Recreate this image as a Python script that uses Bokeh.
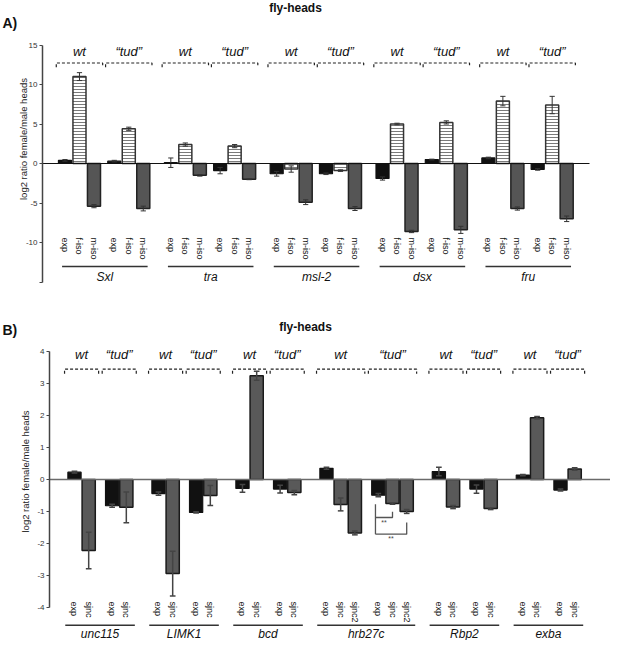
import math
from bokeh.plotting import figure
from bokeh.models import Range1d, FixedTicker
from bokeh.layouts import column
from bokeh.embed import file_html
from bokeh.resources import INLINE
from bokeh.core.properties import value

FONT = "Liberation Sans"
TUD = "\u201ctud\u201d"
conditions = ["wt", TUD]
title_text = "fly-heads"
ylabel_text = "log2 ratio female/male heads"

# ---------------- Panel A data ----------------
genes_a = ["Sxl", "tra", "msl-2", "dsx", "fru"]
iso_a = ["exp", "f-iso", "m-iso"]
a_wt_exp = [0.4, 0.1, -1.3, -1.9, 0.7]
a_wt_fiso = [11.0, 2.4, -0.7, 5.0, 7.9]
a_wt_miso = [-5.4, -1.5, -4.9, -8.6, -5.7]
a_tud_exp = [0.3, -0.9, -1.3, 0.5, -0.75]
a_tud_fiso = [4.4, 2.2, -0.9, 5.2, 7.4]
a_tud_miso = [-5.7, -2.0, -5.7, -8.4, -7.0]
a_wt_exp_err = [0.1, 0.6, 0.3, 0.2, 0.1]
a_wt_fiso_err = [0.5, 0.2, 0.4, 0.1, 0.6]
a_wt_miso_err = [0.2, 0.1, 0.3, 0.15, 0.2]
a_tud_exp_err = [0.1, 0.4, 0.1, 0.05, 0.1]
a_tud_fiso_err = [0.2, 0.2, 0.1, 0.2, 1.1]
a_tud_miso_err = [0.3, 0.05, 0.25, 0.45, 0.35]
a_ticks = [-15, -10, -5, 0, 5, 10, 15]

# ---------------- Panel B data ----------------
genes_b = ["unc115", "LIMK1", "bcd", "hrb27c", "Rbp2", "exba"]
iso_b = [["exp", "sjnc"], ["exp", "sjnc"], ["exp", "sjnc"],
         ["exp", "sjnc", "sjnc2"], ["exp", "sjnc"], ["exp", "sjnc"]]
b_wt_vals = [[0.23, -2.22], [-0.44, -2.94], [-0.28, 3.24],
             [0.35, -0.78, -1.67], [0.25, -0.86], [0.14, 1.93]]
b_tud_vals = [[-0.82, -0.87], [-1.03, -0.50], [-0.30, -0.41],
              [-0.49, -0.75, -1.00], [-0.30, -0.91], [-0.33, 0.33]]
b_wt_err = [[0.03, 0.57], [0.05, 0.70], [0.12, 0.14],
            [0.03, 0.20, 0.06], [0.13, 0.05], [0.02, 0.04]]
b_tud_err = [[0.05, 0.48], [0.02, 0.31], [0.12, 0.07],
             [0.05, 0.02, 0.06], [0.13, 0.03], [0.03, 0.04]]
b_ticks = [-4, -3, -2, -1, 0, 1, 2, 3, 4]
sig_label = "**"


def positions(n_list, pad_s, pad_g):
    out = []
    start = 0.0
    for n in n_list:
        wt = [start + i for i in range(n)]
        tud = [start + n + pad_s + i for i in range(n)]
        out.append((wt, tud))
        start += 2 * n + pad_s + pad_g
    return out


def make_fig(w, h, xr, yr):
    p = figure(width=w, height=h, x_range=Range1d(*xr), y_range=Range1d(*yr),
               output_backend="svg", toolbar_location=None, title=None,
               x_axis_location=None, min_border_left=0, min_border_right=0,
               min_border_top=0, min_border_bottom=0)
    p.grid.visible = False
    p.outline_line_color = None
    return p


def style_axis(p, ticks, bounds, loc, hide=()):
    ax = p.yaxis[0]
    ax.fixed_location = loc
    ax.ticker = FixedTicker(ticks=ticks)
    ax.bounds = bounds
    ax.major_label_overrides = {t: ("" if t in hide else str(t)) for t in ticks}
    ax.minor_tick_line_color = None
    ax.major_tick_in = 0
    ax.major_tick_out = 3
    ax.axis_line_color = "#444444"
    ax.axis_line_width = 1.5
    ax.major_tick_line_color = "#444444"
    ax.major_tick_line_width = 1.2
    ax.major_label_text_font = FONT
    ax.major_label_text_font_size = "8px"
    ax.major_label_text_color = "#333333"
    ax.major_label_standoff = 2


def add_text(p, x, y, text, size, style="normal", angle=0.0, align="center",
             color="#111111"):
    p.text(x=[x], y=[y], text=[text], angle=angle, text_font=value(FONT),
           text_font_style=style, text_font_size=size, text_align=align,
           text_baseline="middle", text_color=color)


def draw_panel(p, pos, isos, wt_v, tud_v, wt_e, tud_e, styles, width, cap,
               err_color, err_width):
    groups = {}
    ex, lo, hi = [], [], []
    for g in range(len(pos)):
        for c, (vals, errs) in enumerate(((wt_v[g], wt_e[g]), (tud_v[g], tud_e[g]))):
            for i, (v, e) in enumerate(zip(vals, errs)):
                x = pos[g][c][i]
                d = groups.setdefault(isos[g][i], {"x": [], "top": []})
                d["x"].append(x)
                d["top"].append(v)
                ex.append(x)
                lo.append(v - e)
                hi.append(v + e)
    for key, d in groups.items():
        p.vbar(x=d["x"], top=d["top"], bottom=0, width=width, **styles[key])
    p.segment(x0=ex, y0=lo, x1=ex, y1=hi, line_color=err_color, line_width=err_width)
    p.segment(x0=[x - cap for x in ex], y0=hi, x1=[x + cap for x in ex], y1=hi,
              line_color=err_color, line_width=err_width)
    p.segment(x0=[x - cap for x in ex], y0=lo, x1=[x + cap for x in ex], y1=lo,
              line_color=err_color, line_width=err_width)


def draw_groups(p, pos, genes, isos, ext, y_lab, y_br, drop, y_iso, y_line,
                line_ext, y_gene, cond_size, iso_size, gene_size):
    bx, by = [], []
    lx, ly, lt = [], [], []
    ix, iy, it = [], [], []
    ux0, ux1 = [], []
    gx = []
    for g in range(len(pos)):
        for c in range(2):
            xs = pos[g][c]
            x0, x1 = xs[0] - ext, xs[-1] + ext
            bx.append([x0, x0, x1, x1])
            by.append([y_br - drop, y_br, y_br, y_br - drop])
            lx.append((x0 + x1) / 2)
            ly.append(y_lab)
            lt.append(conditions[c])
            for i, x in enumerate(xs):
                ix.append(x)
                iy.append(y_iso)
                it.append(isos[g][i])
        a = pos[g][0][0] + line_ext[0]
        b = pos[g][1][-1] + line_ext[1]
        ux0.append(a)
        ux1.append(b)
        gx.append((a + b) / 2)
    p.multi_line(xs=bx, ys=by, line_color="#222222", line_width=1.2, line_dash="3 2")
    p.text(x=lx, y=ly, text=lt, text_font=value(FONT), text_font_style="italic",
           text_font_size=cond_size, text_align="center", text_baseline="middle",
           text_color="#111111")
    p.text(x=ix, y=iy, text=it, angle=-math.pi / 2, text_font=value(FONT),
           text_font_size=iso_size, text_align="left", text_baseline="middle",
           text_color="#111111")
    p.segment(x0=ux0, y0=[y_line] * len(ux0), x1=ux1, y1=[y_line] * len(ux1),
              line_color="#333333", line_width=1.4)
    p.text(x=gx, y=[y_gene] * len(gx), text=genes, text_font=value(FONT),
           text_font_style="italic", text_font_size=gene_size, text_align="center",
           text_baseline="middle", text_color="#111111")


PAGE_X0 = 8  # page x of figure's left edge

# ================= Panel A =================
A_W, A_H = 610, 318
PXA, XA0, A_AXIS = 14.5, -1.55, 50
def ax_(px):
    return XA0 + (px - A_AXIS) / PXA
def ay_(py):
    return (163 - py) / 7.9

pos_a = positions([3] * len(genes_a), 0.4, 0.9)
pA = make_fig(A_W, A_H, (ax_(PAGE_X0), ax_(PAGE_X0 + A_W)), (ay_(A_H), ay_(0)))
style_axis(pA, a_ticks, (-15, 15), ax_(A_AXIS), hide=(-15,))

styles_a = {
    "exp": dict(fill_color="#111111", line_color="#111111", line_width=1.2),
    "f-iso": dict(fill_color="white", line_color="#333333", line_width=1.5,
                  hatch_pattern="horizontal_line", hatch_color="#7a7a7a",
                  hatch_scale=3, hatch_weight=1),
    "m-iso": dict(fill_color="#555555", line_color="#222222", line_width=1.5),
}
isos_a = [iso_a] * len(genes_a)
wt_va = [list(t) for t in zip(a_wt_exp, a_wt_fiso, a_wt_miso)]
tud_va = [list(t) for t in zip(a_tud_exp, a_tud_fiso, a_tud_miso)]
wt_ea = [list(t) for t in zip(a_wt_exp_err, a_wt_fiso_err, a_wt_miso_err)]
tud_ea = [list(t) for t in zip(a_tud_exp_err, a_tud_fiso_err, a_tud_miso_err)]
draw_panel(pA, pos_a, isos_a, wt_va, tud_va, wt_ea, tud_ea, styles_a, 0.9, 0.18,
           "#333333", 1)
pA.segment(x0=[ax_(A_AXIS)], y0=[0], x1=[ax_(597)], y1=[0], line_color="#111111",
           line_width=1.2)
draw_groups(pA, pos_a, genes_a, isos_a, 0.6, ay_(51), ay_(62.5), 0.55, ay_(237),
            ay_(266), (-0.2, 0.3), ay_(276.5), "13px", "9px", "12px")
add_text(pA, ax_(303), ay_(7), title_text, "12px", style="bold")
add_text(pA, ax_(10), ay_(22), "A)", "14px", style="bold", align="left")
add_text(pA, ax_(31), ay_(138.5), ylabel_text, "9.5px", angle=math.pi / 2,
         color="#222222")

# ================= Panel B =================
B_W, B_H, B_TOP = 610, 322, 326
PXB, XB0, B_AXIS = 14.2, -1.76, 57
def bx_(px):
    return XB0 + (px - B_AXIS) / PXB
def by_(py):
    return (487 - py) / 32.0

pos_b = positions([len(i) for i in iso_b], 0.65, 1.265)
pB = make_fig(B_W, B_H, (bx_(PAGE_X0), bx_(PAGE_X0 + B_W)),
              (by_(B_TOP + B_H), by_(B_TOP)))
style_axis(pB, b_ticks, (-4, 4), bx_(B_AXIS))

styles_b = {
    "exp": dict(fill_color="#111111", line_color="#111111", line_width=1.2),
    "sjnc": dict(fill_color="#595959", line_color="#1a1a1a", line_width=1.5),
    "sjnc2": dict(fill_color="#595959", line_color="#1a1a1a", line_width=1.5),
}
draw_panel(pB, pos_b, iso_b, b_wt_vals, b_tud_vals, b_wt_err, b_tud_err, styles_b,
           0.93, 0.2, "#444444", 1.5)
pB.segment(x0=[bx_(B_AXIS)], y0=[0], x1=[bx_(PAGE_X0 + B_W)], y1=[0],
           line_color="#6a6a6a", line_width=1.5)
draw_groups(pB, pos_b, genes_b, iso_b, 0.7, by_(362), by_(376.7), 0.14, by_(609),
            by_(632.7), (-0.65, 0.6), by_(641), "13px", "9px", "12px")

# significance brackets (hrb27c, "tud")
hx = pos_b[3][1]
xl = hx[0] - 0.2
sig_y = [by_(511.7), by_(525), by_(519.3), by_(541.7), by_(530)]
pB.multi_line(xs=[[xl, xl], [xl, hx[1], hx[1]], [xl, hx[2], hx[2]]],
              ys=[[sig_y[0], sig_y[3]], [sig_y[1], sig_y[1], sig_y[2]],
                  [sig_y[3], sig_y[3], sig_y[4]]],
              line_color="#555555", line_width=1.3)
pB.text(x=[(xl + hx[1]) / 2, (xl + hx[2]) / 2], y=[by_(529.5), by_(546)],
        text=[sig_label, sig_label], text_font=value(FONT), text_font_size="7px",
        text_align="center", text_baseline="middle", text_color="#444444")

add_text(pB, bx_(313), by_(334), title_text, "12px", style="bold")
add_text(pB, bx_(10), by_(337), "B)", "14px", style="bold", align="left")
add_text(pB, bx_(33), by_(479), ylabel_text, "9.5px", angle=math.pi / 2,
         color="#222222")

layout = column(pA, pB)
open("out.html", "w").write(file_html(layout, INLINE))
